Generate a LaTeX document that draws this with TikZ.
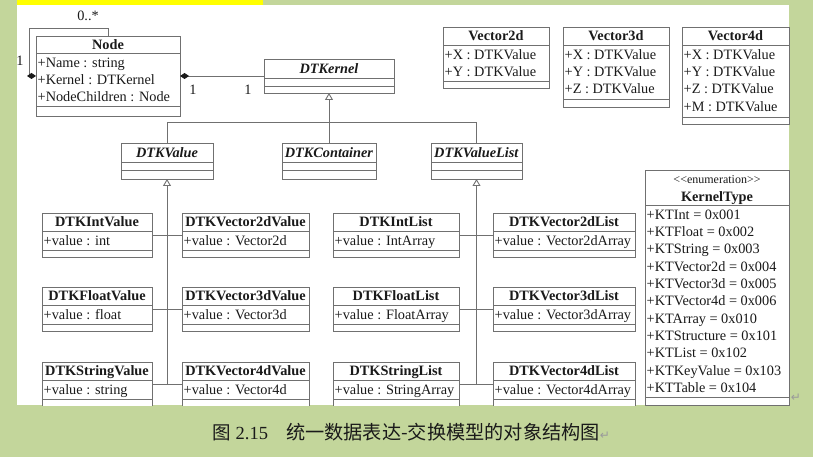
\documentclass[tikz,border=0pt]{standalone}
\usepackage{fontspec}
\setmainfont{Liberation Serif}
\newfontfamily\cjk{Noto Sans CJK SC}
\newfontfamily\dejavu{DejaVu Sans}
\usepackage{tikz}
\usetikzlibrary{arrows.meta}

\definecolor{slidegreen}{HTML}{C3D69B}
\definecolor{markyellow}{HTML}{FFFF00}
\definecolor{umlgray}{HTML}{707070}
\definecolor{inkblack}{HTML}{1A1A1A}
\definecolor{retgray}{HTML}{9A9A9A}

\tikzset{
  classbox/.style={draw=umlgray, line width=0.9pt, inner sep=0pt, outer sep=0pt, anchor=north west, fill=white},
  classline/.style={umlgray, line width=0.9pt},
  classtitle/.style={inner sep=0pt, anchor=base, text=inkblack, font=\fontsize{14.3}{17}\selectfont\bfseries},
  classattr/.style={inner sep=0pt, anchor=base west, text=inkblack, font=\fontsize{14.3}{17}\selectfont},
  multiplicity/.style={inner sep=0pt, text=inkblack, font=\fontsize{14.3}{17}\selectfont},
  link/.style={umlgray, line width=0.9pt},
  inherit/.style={link, -{Triangle[open, length=7pt, width=8pt]}},
  composite/.style={link, {Diamond[length=9pt, width=6pt, color=inkblack, fill=inkblack]}-},
}

% name, left, right, top, first rule, second rule, bottom, title, attributes
\newcommand{\umlclass}[9]{%
  \node[classbox, minimum width={(#3-#2)*1pt}, minimum height={(#7-#4)*1pt}] (#1) at (#2,#4) {};
  \draw[classline] (#2,#5) -- (#3,#5) (#2,#6) -- (#3,#6);
  \node[classtitle] (#1-t) at ({(#2+#3)/2},{(#4+#5)/2+4.8}) {#8};
  \if\relax\detokenize{#9}\relax\else
    \foreach \attrtext [count=\attrno] in {#9}
      \node[classattr] (#1-a\attrno) at ({#2+1.5},{#5+14.3+17.3*(\attrno-1)}) {\attrtext};
  \fi
}

\begin{document}
\begin{tikzpicture}[x=1pt, y=-1pt]
    \useasboundingbox (0,0) rectangle (813,457);
    \fill[slidegreen] (0,0) rectangle (813,457);
    \fill[markyellow] (17,0) rectangle (263,5);
    \fill[white] (17,5) rectangle (789,405);

    \begin{scope}
    \clip (17,5) rectangle (790,405.5);

    \umlclass{nodecls}{36}{180}{36}{53}{106}{116}{Node}{+Name : string,+Kernel : DTKernel,+NodeChildren : Node}
    \umlclass{dtkernel}{264}{394}{59}{78}{86}{93}{\textit{DTKernel}}{}

    \umlclass{vec2}{443}{549}{27}{45}{81}{88}{Vector2d}{+X : DTKValue,+Y : DTKValue}
    \umlclass{vec3}{563}{669}{27}{45}{99}{107}{Vector3d}{+X : DTKValue,+Y : DTKValue,+Z : DTKValue}
    \umlclass{vec4}{682}{789}{27}{45}{117}{124}{Vector4d}{+X : DTKValue,+Y : DTKValue,+Z : DTKValue,+M : DTKValue}

    \umlclass{dtkvalue}{121}{213}{143}{162}{170}{179}{\textit{DTKValue}}{}
    \umlclass{dtkcontainer}{282}{376}{143}{162}{170}{179}{\textit{DTKContainer}}{}
    \umlclass{dtkvaluelist}{431}{522}{143}{162}{170}{179}{\textit{DTKValueList}}{}

    \umlclass{intv}{42}{152}{213}{231}{250}{257}{DTKIntValue}{+value : int}
    \umlclass{fltv}{42}{152}{287}{305}{324}{331}{DTKFloatValue}{+value : float}
    \umlclass{strv}{42}{152}{362}{380}{399}{406.5}{DTKStringValue}{+value : string}
    \umlclass{v2v}{182}{309}{213}{231}{250}{257}{DTKVector2dValue}{+value : Vector2d}
    \umlclass{v3v}{182}{309}{287}{305}{324}{331}{DTKVector3dValue}{+value : Vector3d}
    \umlclass{v4v}{182}{309}{362}{380}{399}{406.5}{DTKVector4dValue}{+value : Vector4d}

    \umlclass{intl}{333}{459}{213}{231}{250}{257}{DTKIntList}{+value : IntArray}
    \umlclass{fltl}{333}{459}{287}{305}{324}{331}{DTKFloatList}{+value : FloatArray}
    \umlclass{strl}{333}{459}{362}{380}{399}{406.5}{DTKStringList}{+value : StringArray}
    \umlclass{v2l}{493}{635}{213}{231}{250}{257}{DTKVector2dList}{+value : Vector2dArray}
    \umlclass{v3l}{493}{635}{287}{305}{324}{331}{DTKVector3dList}{+value : Vector3dArray}
    \umlclass{v4l}{493}{635}{362}{380}{399}{406.5}{DTKVector4dList}{+value : Vector4dArray}

    \umlclass{ktype}{645}{789}{170}{205}{397}{405}{}{+KTInt = 0x001,+KTFloat = 0x002,+KTString = 0x003,+KTVector2d = 0x004,+KTVector3d = 0x005,+KTVector4d = 0x006,+KTArray = 0x010,+KTStructure = 0x101,+KTList = 0x102,+KTKeyValue = 0x103,+KTTable = 0x104}
    \node[multiplicity, font=\fontsize{12}{14}\selectfont] (ktype-s) at (717,180) {<\kern0pt<enumeration>\kern0pt>};
    \node[classtitle] (ktype-name) at (717,201.8) {KernelType};

    \coordinate (loopcorner) at (29,28);
    \draw[composite] (nodecls.west) -| (loopcorner) -| (nodecls.north);
    \draw[composite] (nodecls.east) -- (nodecls.east -| dtkernel.west);
    \node[multiplicity] (m-loop) at (88,16) {0..*};
    \node[multiplicity] (m-self) at (20,61) {1};
    \node[multiplicity] (m-node) at (193,90) {1};
    \node[multiplicity] (m-kernel) at (248,90) {1};

    \coordinate (bus) at (329,122);
    \draw[link] (dtkvalue.north) |- (bus -| dtkvaluelist.north) -- (dtkvaluelist.north);
    \draw[inherit] (dtkcontainer.north) -- (dtkernel.south);

    \coordinate (vbottom) at (dtkvalue.south |- strv.east);
    \coordinate (lbottom) at (dtkvaluelist.south |- strl.east);
    \draw[inherit] (vbottom) -- (dtkvalue.south);
    \draw[inherit] (lbottom) -- (dtkvaluelist.south);
    \foreach \lft/\rgt in {intv/v2v, fltv/v3v, strv/v4v, intl/v2l, fltl/v3l, strl/v4l}
      \draw[link] (\lft.east) -- (\rgt.west);
    \end{scope}

    \node[text=retgray, inner sep=0pt, font=\dejavu\fontsize{12}{12}\selectfont] (endmark) at (796,398) {↵};
    \node[anchor=base west, inner sep=0pt, text=inkblack, font=\fontsize{18.5}{22}\selectfont] (caption) at (212,439.5)
      {\cjk 图\hspace{5pt}\rmfamily 2.15\hspace{18pt}{\fontsize{19.2}{22}\selectfont\cjk 统一数据表达-交换模型的对象结构图}{\dejavu\color{retgray}\fontsize{12}{12}\selectfont ↵}};
\end{tikzpicture}
\end{document}
